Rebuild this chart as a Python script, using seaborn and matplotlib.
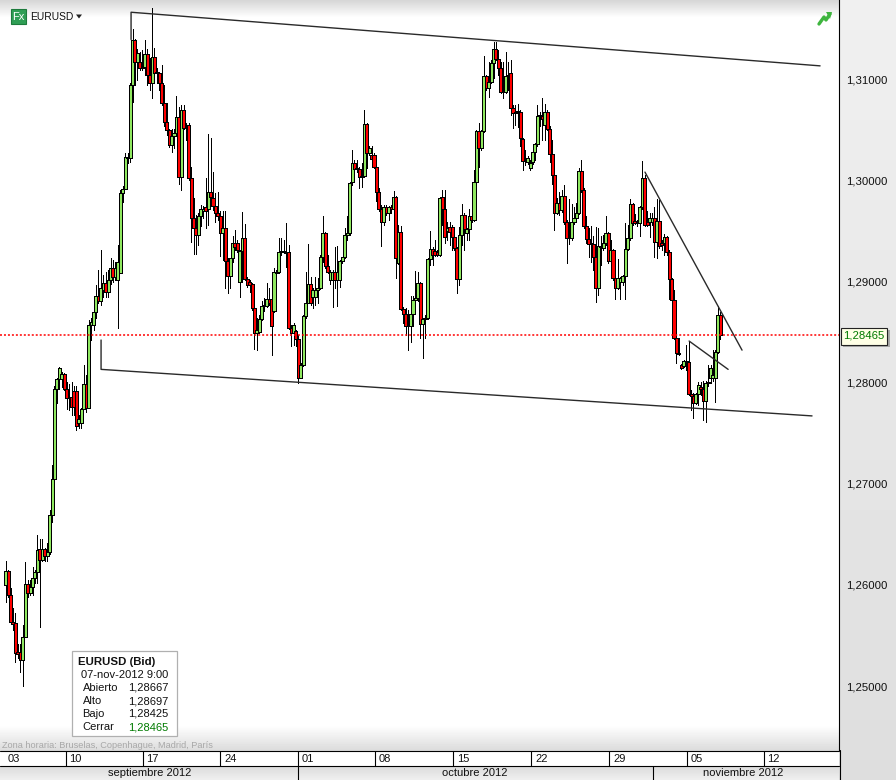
import numpy as np
import pandas as pd
import matplotlib
matplotlib.use("Agg")
import matplotlib.pyplot as plt
from matplotlib.patches import Rectangle, Polygon
import seaborn as sns

# EURUSD bid candles, in 1/10000 of a unit
opens = [
    12600, 12614, 12590, 12563, 12562, 12534, 12534, 12526, 12548, 12601,
    12592, 12598, 12607, 12613, 12635, 12625, 12635, 12629, 12632, 12669,
    12705, 12794, 12803, 12803, 12808, 12794, 12785, 12786, 12792, 12792,
    12760, 12760, 12774, 12799, 12775, 12857, 12857, 12870, 12886, 12881,
    12891, 12898, 12889, 12901, 12913, 12904, 12901, 12908, 12987, 12991,
    13022, 13022, 13094, 13139, 13117, 13117, 13112, 13112, 13125, 13104,
    13096, 13122, 13106, 13106, 13096, 13076, 13058, 13050, 13035, 13044,
    13047, 13062, 13003, 13069, 13053, 13055, 13002, 12963, 12953, 12946,
    12965, 12970, 12973, 12972, 12988, 12982, 12974, 12968, 12965, 12948,
    12953, 12920, 12905, 12923, 12938, 12938, 12899, 12930, 12943, 12902,
    12899, 12897, 12874, 12849, 12850, 12863, 12876, 12876, 12883, 12883,
    12871, 12909, 12909, 12929, 12929, 12929, 12929, 12854, 12849, 12851,
    12843, 12804, 12817, 12866, 12879, 12897, 12885, 12885, 12891, 12893,
    12924, 12948, 12915, 12901, 12901, 12909, 12901, 12901, 12920, 12924,
    12946, 12948, 12998, 13017, 13012, 13011, 13003, 13004, 13056, 13027,
    13025, 13025, 13013, 12988, 12972, 12959, 12973, 12968, 12973, 12972,
    12983, 12918, 12949, 12873, 12868, 12857, 12856, 12868, 12882, 12884,
    12898, 12858, 12863, 12864, 12922, 12932, 12930, 12929, 12926, 12983,
    12972, 12950, 12954, 12954, 12944, 12933, 12902, 12946, 12966, 12948,
    12952, 12965, 12961, 12998, 13049, 13032, 13049, 13103, 13091, 13097,
    13116, 13130, 13120, 13111, 13087, 13087, 13103, 13106, 13071, 13066,
    13068, 13067, 13041, 13019, 13018, 13012, 13018, 13028, 13036, 13063,
    13063, 13055, 13067, 13051, 13026, 13005, 12968, 12977, 12971, 12984,
    12959, 12944, 12943, 12959, 12963, 12968, 13009, 12990, 12955, 12942,
    12937, 12937, 12924, 12893, 12934, 12933, 12938, 12948, 12920, 12931,
    12903, 12893, 12899, 12899, 12905, 12932, 12943, 12976, 12960, 12959,
    12958, 12973, 13002, 12959, 12959, 12959, 12963, 12939, 12960, 12938,
    12938, 12944, 12929, 12902, 12882, 12844, 12829, 12817, 12816, 12820,
    12820, 12789, 12787, 12780, 12789, 12796, 12794, 12782, 12800, 12804,
    12804, 12804, 12830, 12867,
]
closes = [
    12614, 12590, 12563, 12561, 12533, 12532, 12526, 12548, 12601, 12592,
    12598, 12607, 12613, 12634, 12625, 12635, 12629, 12632, 12669, 12705,
    12794, 12803, 12814, 12808, 12794, 12785, 12786, 12776, 12776, 12757,
    12764, 12774, 12799, 12775, 12857, 12860, 12870, 12886, 12881, 12893,
    12898, 12889, 12901, 12913, 12904, 12913, 12919, 12987, 12991, 13023,
    13022, 13094, 13139, 13117, 13126, 13111, 13111, 13125, 13104, 13096,
    13122, 13106, 13107, 13096, 13076, 13058, 13050, 13035, 13044, 13047,
    13062, 13003, 13069, 13052, 13052, 13002, 12963, 12953, 12946, 12965,
    12972, 12972, 12970, 12988, 12983, 12974, 12968, 12965, 12948, 12953,
    12920, 12905, 12923, 12938, 12934, 12931, 12930, 12943, 12902, 12896,
    12896, 12874, 12849, 12852, 12863, 12876, 12877, 12883, 12879, 12856,
    12909, 12908, 12929, 12930, 12930, 12928, 12854, 12849, 12857, 12843,
    12804, 12817, 12866, 12879, 12897, 12879, 12891, 12891, 12893, 12924,
    12948, 12915, 12909, 12909, 12909, 12901, 12909, 12920, 12924, 12946,
    12948, 12997, 13017, 13011, 13011, 13003, 13004, 13056, 13027, 13032,
    13021, 13013, 12988, 12972, 12959, 12973, 12968, 12973, 12972, 12983,
    12923, 12949, 12873, 12868, 12856, 12856, 12868, 12882, 12884, 12898,
    12858, 12863, 12864, 12922, 12932, 12926, 12926, 12926, 12982, 12972,
    12944, 12953, 12949, 12944, 12933, 12902, 12946, 12966, 12952, 12952,
    12965, 12961, 12998, 13049, 13032, 13049, 13103, 13091, 13097, 13116,
    13130, 13120, 13111, 13087, 13087, 13103, 13104, 13071, 13066, 13067,
    13067, 13042, 13019, 13020, 13022, 13017, 13028, 13036, 13063, 13064,
    13060, 13067, 13051, 13026, 13005, 12968, 12977, 12971, 12984, 12959,
    12943, 12943, 12959, 12963, 12968, 13009, 12990, 12955, 12942, 12937,
    12938, 12924, 12893, 12935, 12935, 12938, 12948, 12920, 12931, 12903,
    12893, 12903, 12903, 12905, 12932, 12943, 12976, 12958, 12958, 12958,
    12973, 13002, 12956, 12956, 12963, 12963, 12939, 12960, 12935, 12936,
    12944, 12929, 12902, 12882, 12844, 12829, 12828, 12814, 12821, 12821,
    12789, 12787, 12780, 12789, 12798, 12794, 12782, 12800, 12801, 12814,
    12807, 12830, 12867, 12847,
]
highs = [
    12624, 12615, 12597, 12577, 12572, 12542, 12542, 12560, 12623, 12605,
    12605, 12618, 12615, 12649, 12645, 12645, 12636, 12641, 12674, 12718,
    12797, 12804, 12815, 12810, 12809, 12801, 12799, 12801, 12797, 12797,
    12768, 12775, 12817, 12807, 12862, 12864, 12875, 12896, 12911, 12931,
    12906, 12909, 12911, 12923, 12921, 12919, 12936, 12990, 12994, 13027,
    13027, 13096, 13149, 13140, 13130, 13127, 13129, 13139, 13130, 13121,
    13170, 13131, 13111, 13107, 13114, 13094, 13076, 13051, 13051, 13051,
    13083, 13072, 13074, 13074, 13057, 13057, 13013, 12982, 12966, 12968,
    12975, 12974, 13002, 13046, 13042, 13008, 12987, 12988, 12970, 12970,
    12970, 12923, 12923, 12945, 12951, 12941, 12931, 12969, 12957, 12904,
    12901, 12898, 12886, 12864, 12867, 12881, 12884, 12898, 12893, 12891,
    12913, 12911, 12943, 12943, 12941, 12958, 12936, 12857, 12859, 12852,
    12847, 12819, 12867, 12909, 12937, 12904, 12893, 12904, 12903, 12926,
    12965, 12949, 12926, 12911, 12911, 12934, 12935, 12921, 12923, 12953,
    12965, 12998, 13030, 13020, 13020, 13013, 13017, 13069, 13057, 13034,
    13034, 13027, 13014, 12992, 12975, 12975, 12975, 12974, 12975, 12989,
    12984, 12956, 12955, 12875, 12874, 12872, 12886, 12886, 12910, 12909,
    12899, 12864, 12867, 12923, 12950, 12934, 12941, 12931, 12983, 12990,
    12990, 12959, 12959, 12956, 12951, 12934, 12954, 12976, 12968, 12953,
    12972, 12973, 13010, 13050, 13057, 13050, 13123, 13104, 13117, 13119,
    13137, 13137, 13129, 13117, 13117, 13127, 13117, 13119, 13074, 13074,
    13075, 13069, 13042, 13030, 13024, 13020, 13030, 13037, 13074, 13067,
    13081, 13075, 13069, 13054, 13040, 13008, 12982, 12988, 12990, 12995,
    12961, 12981, 12976, 12973, 12977, 13012, 13020, 12992, 12965, 12953,
    12955, 12945, 12954, 12953, 12945, 12946, 12965, 12949, 12941, 12932,
    12904, 12922, 12904, 12906, 12958, 12956, 12981, 12977, 12967, 12961,
    12974, 13019, 13005, 12970, 12968, 12968, 12973, 12981, 12980, 12941,
    12947, 12945, 12931, 12903, 12891, 12846, 12844, 12818, 12822, 12837,
    12841, 12793, 12790, 12790, 12801, 12801, 12802, 12802, 12817, 12817,
    12832, 12832, 12876, 12870,
]
lows = [
    12583, 12588, 12563, 12555, 12524, 12528, 12514, 12500, 12548, 12588,
    12590, 12590, 12602, 12602, 12558, 12624, 12624, 12624, 12631, 12662,
    12698, 12780, 12794, 12796, 12793, 12774, 12773, 12768, 12768, 12753,
    12755, 12755, 12774, 12771, 12775, 12842, 12852, 12864, 12879, 12877,
    12885, 12885, 12885, 12897, 12899, 12901, 12854, 12908, 12978, 13015,
    13017, 13018, 13077, 13094, 13099, 13109, 13109, 13104, 13094, 13089,
    13081, 13096, 13096, 13089, 13074, 13054, 13045, 13033, 13028, 13032,
    13045, 12996, 12990, 13051, 13040, 13000, 12939, 12927, 12927, 12936,
    12955, 12963, 12953, 12956, 12980, 12971, 12959, 12961, 12925, 12921,
    12893, 12888, 12893, 12919, 12931, 12929, 12885, 12899, 12901, 12894,
    12889, 12872, 12833, 12832, 12849, 12862, 12871, 12875, 12877, 12827,
    12870, 12899, 12908, 12926, 12928, 12914, 12853, 12836, 12837, 12836,
    12800, 12804, 12816, 12864, 12879, 12877, 12874, 12877, 12879, 12892,
    12919, 12913, 12908, 12897, 12875, 12893, 12876, 12894, 12918, 12923,
    12941, 12946, 12995, 13010, 13008, 12992, 12993, 13003, 13012, 13025,
    13018, 13012, 12979, 12970, 12935, 12956, 12966, 12961, 12968, 12971,
    12903, 12917, 12872, 12859, 12847, 12832, 12840, 12856, 12881, 12881,
    12844, 12824, 12844, 12863, 12916, 12916, 12925, 12925, 12925, 12956,
    12938, 12941, 12936, 12931, 12931, 12888, 12896, 12936, 12931, 12941,
    12941, 12959, 12960, 12982, 13013, 13030, 13048, 13089, 13082, 13096,
    13101, 13119, 13104, 13086, 13081, 13086, 13089, 13064, 13052, 13055,
    13053, 13034, 13010, 13015, 13016, 13010, 13016, 13020, 13034, 13054,
    13040, 13040, 13050, 13018, 12996, 12951, 12967, 12966, 12969, 12957,
    12918, 12937, 12941, 12957, 12959, 12967, 12988, 12953, 12938, 12924,
    12919, 12911, 12880, 12887, 12916, 12931, 12936, 12918, 12919, 12901,
    12883, 12892, 12883, 12896, 12883, 12931, 12941, 12956, 12957, 12955,
    12945, 12972, 12955, 12955, 12944, 12956, 12924, 12923, 12933, 12931,
    12926, 12926, 12883, 12864, 12843, 12819, 12827, 12813, 12815, 12812,
    12788, 12773, 12765, 12779, 12778, 12788, 12763, 12761, 12797, 12800,
    12802, 12781, 12829, 12843,
]

last_price = 1.28465
y_ticks = [1.25, 1.26, 1.27, 1.28, 1.29, 1.30, 1.31]
y_labels = ["1,25000", "1,26000", "1,27000", "1,28000", "1,29000", "1,30000", "1,31000"]
y_minor = [1.245, 1.255, 1.265, 1.275, 1.285, 1.295, 1.305, 1.315]

# hand drawn trend lines: bar number, price
upper_x = [51.4, 51.4, 333.9]
upper_y = [1.3139, 1.3166, 1.3113]
lower_x = [39.1, 39.1, 330.6]
lower_y = [1.2842, 1.2813, 1.2767]
wedge_x = [262.1, 301.9]
wedge_y = [1.3008, 1.2832]
small_x = [280.2, 296.2]
small_y = [1.2841, 1.2813]

week_labels = ["03", "10", "17", "24", "01", "08", "15", "22", "29", "05", "12"]
week_edges = [4, 65.5, 142.5, 220, 297.5, 375, 453, 531, 609, 686.5, 763.5]
month_labels = ["septiembre 2012", "octubre 2012", "noviembre 2012"]
month_edges = [297.5, 652.5]
month_centers = [150, 475, 743]

info_rows = [("Abierto", "1,28667"), ("Alto", "1,28697"), ("Bajo", "1,28425"), ("Cerrar", "1,28465")]

sns.set_theme(style="white")
plt.rcParams["font.family"] = ["Liberation Sans", "DejaVu Sans"]

W, H = 896, 780
fig = plt.figure(figsize=(W / 100, H / 100), dpi=100, facecolor="white")

# background panels, in pixels
bg = fig.add_axes([0, 0, 1, 1], zorder=0)
bg.axis("off")
grad = np.linspace(0.84, 1, 18).reshape(-1, 1)
bg.imshow(grad, extent=(0, 839, 18, 0), cmap="gray", vmin=0, vmax=1, aspect="auto")
grad2 = np.linspace(1, 0.86, 26).reshape(-1, 1)
bg.imshow(grad2, extent=(0, 839, 751, 725), cmap="gray", vmin=0, vmax=1, aspect="auto")
grad3 = np.linspace(0.86, 0.94, 15).reshape(-1, 1)
bg.imshow(grad3, extent=(0, 839, 780, 766), cmap="gray", vmin=0, vmax=1, aspect="auto")
side = np.linspace(0.94, 0.87, 78).reshape(-1, 1)
bg.imshow(side, extent=(839, 896, 780, 0), cmap="gray", vmin=0, vmax=1, aspect="auto")
bg.set_xlim(0, W)
bg.set_ylim(H, 0)

# main chart
bar_step = 2.439
first_bar = 5.7
ax = fig.add_axes([0, 30 / H, 839 / W, 750 / H], zorder=1)
ax.patch.set_alpha(0)
x0, x1 = -first_bar / bar_step, (839 - first_bar) / bar_step
ax.set_xlim(x0, x1)
ax.set_ylim(1.31781 - 750 / 10117, 1.31781)

df = pd.DataFrame({"open": opens, "close": closes, "high": highs, "low": lows}) / 10000
df["bar"] = np.arange(len(df))
up = df["close"] >= df["open"]

ax.vlines(df["bar"], df["low"], df["high"], color="black", lw=0.72, antialiased=False, zorder=2)
ax.bar(df["bar"], (df["close"] - df["open"]).abs(), bottom=df[["open", "close"]].min(axis=1),
       width=1.25, color=np.where(up, "#8fe860", "#ff0000"), edgecolor="black", lw=0.72,
       antialiased=False, zorder=3)

# last price marker
ax.plot([x0, x1], [last_price, last_price], color="red", lw=1.1, dashes=(1.3, 1.3), zorder=6, scalex=False, scaley=False)

for xs, ys in [(upper_x, upper_y), (lower_x, lower_y), (wedge_x, wedge_y), (small_x, small_y)]:
    sns.lineplot(x=xs, y=ys, ax=ax, sort=False, estimator=None, color="#2a2a2a", lw=1.0, zorder=5)

ax.yaxis.tick_right()
ax.set_yticks(y_ticks)
ax.set_yticklabels(y_labels, fontsize=8.2, color="#111111")
ax.set_yticks(y_minor, minor=True)
ax.tick_params(axis="y", which="major", length=4.5, width=0.72, color="black", right=True, pad=0.5)
ax.tick_params(axis="y", which="minor", length=2.3, width=0.72, color="black", right=True)
ax.set_xticks([])
sns.despine(ax=ax, left=True, top=True, bottom=True, right=False)
ax.spines["right"].set_color("black")
ax.spines["right"].set_linewidth(0.8)

# header, date rows, info box
top = fig.add_axes([0, 0, 1, 1], zorder=2)
top.set_xlim(0, W)
top.set_ylim(H, 0)
top.axis("off")
top.patch.set_alpha(0)

top.add_patch(Rectangle((10.5, 8.5), 15, 15, fc="#2f9e55", ec="#1d7a3c", lw=0.8))
top.text(18, 16.5, "Fx", color="white", fontsize=8, ha="center", va="center")
top.text(30, 17, "EURUSD", color="#111111", fontsize=7.4, va="center")
top.add_patch(Polygon([(76, 14.5), (82, 14.5), (79, 18.5)], fc="#222222", ec="none"))

# small trend icon, top right
top.plot([819, 824, 826, 830], [24, 17, 20, 14], color="#3fb53f", lw=2.4, solid_capstyle="round")
top.add_patch(Polygon([(826, 12), (832, 12), (830, 19)], fc="#3fb53f", ec="none"))

# last price tag
top.add_patch(Rectangle((843, 330), 47, 17, fc="#a8a8a8", ec="none"))
top.add_patch(Rectangle((840.5, 327.5), 46, 17, fc="#ffffe6", ec="#222222", lw=0.8))
top.text(863.5, 336, "1,28465", color="#007a00", fontsize=8.2, ha="center", va="center")

top.add_patch(Rectangle((0, 751), 839, 14.5, fc="white", ec="none", zorder=0.5))
top.plot([0, 839], [750.5, 750.5], color="black", lw=0.8)
top.plot([0, 839], [765.5, 765.5], color="black", lw=0.8)
top.plot([839.5, 839.5], [750, 780], color="black", lw=0.8)

for i, (lab, edge) in enumerate(zip(week_labels, week_edges)):
    if i > 0:
        top.plot([edge, edge], [750.5, 765.5], color="black", lw=0.8)
    top.text(edge + 4, 758.5, lab, fontsize=8, color="#111111", va="center")

for edge in month_edges:
    top.plot([edge, edge], [765.5, 780], color="black", lw=0.8)
for lab, c in zip(month_labels, month_centers):
    top.text(c, 773.5, lab, fontsize=8, color="#111111", ha="center", va="center")

top.text(2, 745, "Zona horaria: Bruselas, Copenhague, Madrid, París", fontsize=6.55, color="#a8a8a8", va="center")

top.add_patch(Rectangle((71.5, 650.5), 105, 85, fc="white", ec="#b0b0b0", lw=0.9))
top.text(78, 662, "EURUSD (Bid)", fontsize=8.2, fontweight="bold", color="#111111", va="center")
top.text(81, 675, "07-nov-2012 9:00", fontsize=8, color="#111111", va="center")
for i, (name, val) in enumerate(info_rows):
    y = 688 + i * 13
    top.text(82.5, y, name, fontsize=8, color="#111111", va="center")
    top.text(168, y, val, fontsize=8, ha="right", color="#007a00" if name == "Cerrar" else "#111111", va="center")

fig.savefig("out.png", dpi=100)
